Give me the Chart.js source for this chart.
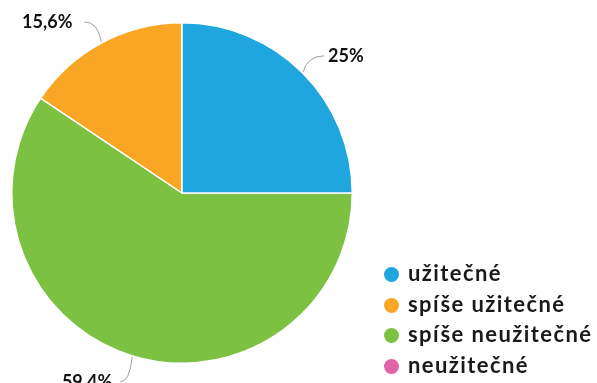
<!DOCTYPE html>
<html lang="cs">
<head>
<meta charset="utf-8">
<script src="https://cdn.jsdelivr.net/npm/chart.js@4/dist/chart.umd.min.js"></script>
<style>
  body { margin: 0; background: #fff; }
  #wrap { position: relative; width: 597px; height: 383px; overflow: hidden; }
  #legend { position: absolute; left: 384px; top: 258px; font-family: Lato, "DejaVu Sans", sans-serif; font-weight: 700; font-size: 22px; letter-spacing: 1.4px; color: #1a1a1a; }
  #legend div { height: 30.5px; line-height: 30px; white-space: nowrap; }
  #legend span { display: inline-block; width: 15px; height: 15px; border-radius: 50%; margin-right: 9px; vertical-align: -1px; }
</style>
</head>
<body>
<div id="wrap">
  <canvas id="pieChart" width="597" height="383"></canvas>
  <div id="legend"></div>
</div>
<script>
    // Kategorie a podíly odpovědí (%)
    const categories = ['užitečné', 'spíše užitečné', 'spíše neužitečné', 'neužitečné'];
    const values = [25, 15.6, 59.4, 0];
    const valueLabels = ['25%', '15,6%', '59,4%', ''];
    const colors = ['#1fa6df', '#f9a624', '#7dc143', '#e063aa'];

    // Posun popisku od okraje výseče: [dx, dy, zarovnání, mezera]
    const labelOffsets = [[21, -16, 'left', 4], [-17, -20, 'right', 12], [-12, 25, 'right', 8], [0, 0, 'left', 0]];

    // Výseče jdou od 3 hodin proti směru hodin -> v Chart.js obrácené pořadí
    const order = values.map((v, i) => i).reverse();

    // Popisky hodnot s vodicí čárou
    const valueLabelPlugin = {
        id: 'valueLabels',
        afterDatasetsDraw(chart) {
            const ctx = chart.ctx;
            const arcs = chart.getDatasetMeta(0).data;
            ctx.save();
            ctx.font = 'bold 18px Lato, "DejaVu Sans", sans-serif';
            ctx.textBaseline = 'middle';
            arcs.forEach((arc, j) => {
                const i = order[j];
                if (!values[i]) return;
                const mid = (arc.startAngle + arc.endAngle) / 2;
                const ex = arc.x + Math.cos(mid) * (arc.outerRadius + 1);
                const ey = arc.y + Math.sin(mid) * (arc.outerRadius + 1);
                const [dx, dy, align, gap] = labelOffsets[i];
                const lx = ex + dx, ly = ey + dy;
                ctx.strokeStyle = '#a0a0a0';
                ctx.lineWidth = 1;
                ctx.beginPath();
                ctx.moveTo(ex, ey);
                ctx.quadraticCurveTo(ex + dx * 0.2, ly, lx, ly);
                ctx.stroke();
                ctx.fillStyle = '#111';
                ctx.textAlign = align;
                ctx.fillText(valueLabels[i], align === 'left' ? lx + gap : lx - gap, ly);
            });
            ctx.restore();
        }
    };

    const pieConfig = {
        type: 'pie',
        data: {
            labels: order.map(i => categories[i]),
            datasets: [{
                data: order.map(i => values[i]),
                backgroundColor: order.map(i => colors[i]),
                borderColor: '#ffffff',
                borderWidth: 1.5,
                hoverOffset: 0
            }]
        },
        options: {
            responsive: false,
            animation: false,
            events: [],
            rotation: 90,
            layout: { padding: { left: 10, right: 243, top: 22, bottom: 19 } },
            plugins: {
                legend: { display: false },
                tooltip: { enabled: false }
            }
        },
        plugins: [valueLabelPlugin]
    };

    new Chart(document.getElementById('pieChart').getContext('2d'), pieConfig);

    // Legenda
    const legendEl = document.getElementById('legend');
    categories.forEach((name, i) => {
        const row = document.createElement('div');
        const dot = document.createElement('span');
        dot.style.background = colors[i];
        row.appendChild(dot);
        row.appendChild(document.createTextNode(name));
        legendEl.appendChild(row);
    });
</script>
</body>
</html>
